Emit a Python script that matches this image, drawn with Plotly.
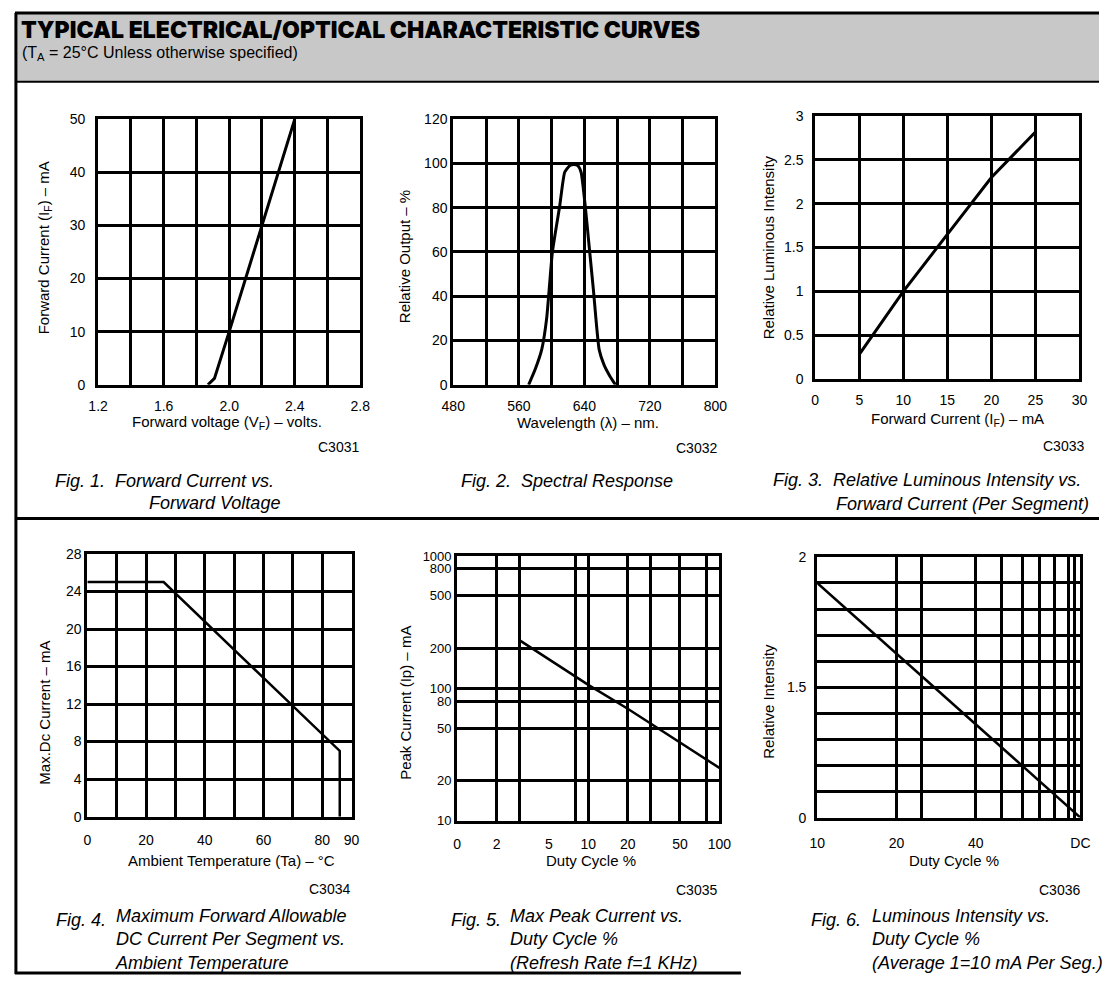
import math
import plotly.graph_objects as go

W, H = 1111, 984
FONT = "Liberation Sans"

# ---------------- data ----------------
# Fig 1: Forward current vs forward voltage
vf = [1.87, 1.91, 2.0, 2.1, 2.2, 2.3, 2.4]
if_ma = [0, 1.2, 10, 20, 30, 40, 50]
fig1_xticks = [1.2, 1.4, 1.6, 1.8, 2.0, 2.2, 2.4, 2.6, 2.8]
fig1_xlabels = ["1.2", "", "1.6", "", "2.0", "", "2.4", "", "2.8"]
fig1_yticks = [0, 10, 20, 30, 40, 50]

# Fig 2: Spectral response
wavelength = [572, 580, 588, 594, 601, 610, 616, 622, 627, 632, 636, 641, 646, 651, 658, 664, 671, 678]
rel_output = [0, 7, 16, 30, 60, 81, 96, 99, 99.5, 99, 96, 81, 62, 43, 16, 9, 4, 0]
fig2_xticks = [480, 520, 560, 600, 640, 680, 720, 760, 800]
fig2_xlabels = ["480", "", "560", "", "640", "", "720", "", "800"]
fig2_yticks = [0, 20, 40, 60, 80, 100, 120]

# Fig 3: Relative luminous intensity vs forward current
if3 = [5, 10, 15, 20, 25]
lum3 = [0.28, 1.0, 1.65, 2.3, 2.82]
fig3_xticks = [0, 5, 10, 15, 20, 25, 30]
fig3_yticks = [0, 0.5, 1, 1.5, 2, 2.5, 3]
fig3_ylabels = ["0", "0.5", "1", "1.5", "2", "2.5", "3"]

# Fig 4: Max DC current vs ambient temperature
ta = [0, 26, 86, 86]
imax = [25, 25, 7, 0]
fig4_xticks = [0, 10, 20, 30, 40, 50, 60, 70, 80, 90]
fig4_xlabels = ["0", "", "20", "", "40", "", "60", "", "80", "90"]
fig4_yticks = [0, 4, 8, 12, 16, 20, 24, 28]

# Fig 5: Max peak current vs duty cycle
duty5 = [3, 10, 20, 50, 100]
ipeak = [230, 106, 70, 39, 25]
fig5_xticks = [1, 2, 5, 10, 20, 50, 100]
fig5_xlabels = ["0", "2", "5", "10", "20", "50", "100"]
fig5_xgrid = [2, 3, 8, 10, 20, 30, 50, 80]
fig5_yticks = [10, 20, 50, 80, 100, 200, 500, 800, 1000]

# Fig 6: Luminous intensity vs duty cycle
duty6 = [10, 100]
rel6 = [1.8, 0]
fig6_xticks = [10, 20, 25, 40, 50, 60, 70, 80, 90, 95, 100]
fig6_xlabels = ["10", "20", "", "40", "", "", "", "", "", "", "DC"]
fig6_yticks = [0, 0.2, 0.4, 0.6, 0.8, 1.0, 1.2, 1.4, 1.6, 1.8, 2.0]
fig6_ylabels = ["0", "", "", "", "", "1.5", "", "", "", "", "2"]


def px(x):
    return x / W


def py(y):
    return 1 - y / H


def axis(x0, x1, rng, anchor, **kw):
    d = dict(
        domain=[x0, x1], range=rng, anchor=anchor,
        showline=True, mirror=True, linecolor="black", linewidth=3,
        showgrid=True, gridcolor="black", gridwidth=2.7,
        zeroline=False, ticks="", fixedrange=True,
        tickfont=dict(family=FONT, size=14, color="black"),
    )
    d.update(kw)
    return d


fig = go.Figure()

fig.add_trace(go.Scatter(x=vf, y=if_ma, mode="lines", line=dict(color="black", width=3), xaxis="x", yaxis="y"))
fig.add_trace(go.Scatter(x=wavelength, y=rel_output, mode="lines", line=dict(color="black", width=3, shape="spline", smoothing=0.5), xaxis="x2", yaxis="y2"))
fig.add_trace(go.Scatter(x=if3, y=lum3, mode="lines", line=dict(color="black", width=3), xaxis="x3", yaxis="y3"))
fig.add_trace(go.Scatter(x=ta, y=imax, mode="lines", line=dict(color="black", width=2.5), xaxis="x4", yaxis="y4"))
fig.add_trace(go.Scatter(x=duty5, y=ipeak, mode="lines", line=dict(color="black", width=2.5), xaxis="x5", yaxis="y5"))
fig.add_trace(go.Scatter(x=duty6, y=rel6, mode="lines", line=dict(color="black", width=2.5), xaxis="x6", yaxis="y6"))

XS = 6   # x tick label standoff

layout = dict(
    width=W, height=H, margin=dict(l=0, r=0, t=0, b=0),
    paper_bgcolor="white", plot_bgcolor="white", showlegend=False,
    # Fig 1
    xaxis=axis(px(88), px(356), [1.2, 2.8], "y", tickmode="array", tickvals=fig1_xticks, ticktext=fig1_xlabels, ticklabelstandoff=XS),
    yaxis=axis(py(383), py(113), [0, 50], "x", tickmode="array", tickvals=fig1_yticks, ticklabelstandoff=7),
    # Fig 2
    xaxis2=axis(px(451), px(719), [480, 800], "y2", tickmode="array", tickvals=fig2_xticks, ticktext=fig2_xlabels, ticklabelstandoff=XS),
    yaxis2=axis(py(383), py(113), [0, 120], "x2", tickmode="array", tickvals=fig2_yticks, ticklabelstandoff=0),
    # Fig 3
    xaxis3=axis(px(821), px(1091), [0, 30], "y3", tickmode="array", tickvals=fig3_xticks, ticklabelstandoff=XS),
    yaxis3=axis(py(377), py(110), [0, 3], "x3", tickmode="array", tickvals=fig3_yticks, ticktext=fig3_ylabels, ticklabelstandoff=6),
    # Fig 4
    xaxis4=axis(px(77), px(347), [0, 90], "y4", tickmode="array", tickvals=fig4_xticks, ticktext=fig4_xlabels, ticklabelstandoff=XS + 3),
    yaxis4=axis(py(822), py(555), [0, 28], "x4", tickmode="array", tickvals=fig4_yticks, ticklabelstandoff=0),
    # Fig 5
    xaxis5=axis(px(455), px(723), [0, 2], "y5", type="log", tickmode="array", tickvals=fig5_xticks, ticktext=fig5_xlabels,
                showgrid=False, ticklabelstandoff=XS + 3,
                minor=dict(tickmode="array", tickvals=fig5_xgrid, showgrid=True, gridcolor="black", gridwidth=2.7, ticks="")),
    yaxis5=axis(py(826), py(557), [1, 3], "x5", type="log", tickmode="array", tickvals=fig5_yticks,
                ticktext=[str(v) for v in fig5_yticks], ticklabelstandoff=0,
                tickfont=dict(family=FONT, size=13, color="black")),
    # Fig 6
    xaxis6=axis(px(823), px(1092), [1, 2], "y6", type="log", tickmode="array", tickvals=fig6_xticks, ticktext=fig6_xlabels, ticklabelstandoff=XS + 5),
    yaxis6=axis(py(823), py(558), [0, 2], "x6", tickmode="array", tickvals=fig6_yticks, ticktext=fig6_ylabels, ticklabelstandoff=5),
)
fig.update_layout(**layout)

# ---------------- frame, header band and dividers ----------------
shapes = [
    dict(type="rect", xref="paper", yref="paper", x0=px(4), x1=1, y0=py(75), y1=py(5),
         fillcolor="#c8c8c8", line=dict(width=0), layer="below"),
    dict(type="line", xref="paper", yref="paper", x0=px(3), x1=1, y0=py(5), y1=py(5), line=dict(color="black", width=3)),
    dict(type="line", xref="paper", yref="paper", x0=px(3), x1=1, y0=py(75), y1=py(75), line=dict(color="black", width=2)),
    dict(type="line", xref="paper", yref="paper", x0=px(4), x1=px(4), y0=py(5), y1=py(982), line=dict(color="black", width=3)),
    dict(type="line", xref="paper", yref="paper", x0=px(3), x1=1, y0=py(519), y1=py(519), line=dict(color="black", width=3)),
    dict(type="line", xref="paper", yref="paper", x0=px(3), x1=px(745), y0=py(981), y1=py(981), line=dict(color="black", width=3)),
]
fig.update_layout(shapes=shapes)

ann = []


def note(text, x, y, size=15, xanchor="center", angle=0, italic=False, weight=None, family=FONT):
    f = dict(family=family, size=size, color="black")
    if weight is not None:
        f["weight"] = weight
    a = dict(text=f"<i>{text}</i>" if italic else text, x=px(x), y=py(y), xref="paper", yref="paper",
             xanchor=xanchor, yanchor="middle", showarrow=False, textangle=angle, font=f)
    if "<br>" in text:
        a["align"] = "left"
    ann.append(a)


# Header
note("TYPICAL ELECTRICAL/OPTICAL CHARACTERISTIC CURVES", 7, 22, size=23, xanchor="left", weight=900, family="Inter")
note("(T<sub>A</sub> = 25°C Unless otherwise specified)", 8, 46, size=16, xanchor="left")

# Axis titles
note("Forward voltage (V<sub>F</sub>) – volts.", 220, 421)
note("Forward Current (I<sub>F</sub>) – mA", 33, 244, angle=-90)
note("Wavelength (λ) – nm.", 589, 421)
note("Relative Output – %", 402, 253, angle=-90)
note("Forward Current (I<sub>F</sub>) – mA", 966, 418)
note("Relative Luminous Intensity", 773, 243, angle=-90)
note("Ambient Temperature (Ta) – °C", 224, 867)
note("Max.Dc Current – mA", 33, 716, angle=-90)
note("Duty Cycle %", 592, 867)
note("Peak Current (Ip) – mA", 402, 706, angle=-90)
note("Duty Cycle %", 963, 867)
note("Relative Intensity", 773, 705, angle=-90)

# Figure codes
note("C3031", 357, 446, size=14, xanchor="right")
note("C3032", 723, 447, size=14, xanchor="right")
note("C3033", 1098, 445, size=14, xanchor="right")
note("C3034", 348, 896, size=14, xanchor="right")
note("C3035", 723, 897, size=14, xanchor="right")
note("C3036", 1094, 897, size=14, xanchor="right")

# Captions
CS = 18
note("Fig. 1.  Forward Current vs.", 42, 481, size=CS, xanchor="left", italic=True)
note("Forward Voltage", 138, 503, size=CS, xanchor="left", italic=True)
note("Fig. 2.  Spectral Response", 457, 481, size=CS, xanchor="left", italic=True)
note("Fig. 3.  Relative Luminous Intensity vs.", 1095, 480, size=CS, xanchor="right", italic=True)
note("Forward Current (Per Segment)", 1103, 504, size=CS, xanchor="right", italic=True)
note("Fig. 4.", 43, 927, size=CS, xanchor="left", italic=True)
note("Maximum Forward Allowable<br>DC Current Per Segment vs.<br>Ambient Temperature", 103, 947, size=CS, xanchor="left", italic=True)
note("Fig. 5.", 447, 927, size=CS, xanchor="left", italic=True)
note("Max Peak Current vs.<br>Duty Cycle %<br>(Refresh Rate f=1 KHz)", 507, 947, size=CS, xanchor="left", italic=True)
note("Fig. 6.", 815, 927, size=CS, xanchor="left", italic=True)
note("Luminous Intensity vs.<br>Duty Cycle %<br>(Average 1=10 mA Per Seg.)", 877, 947, size=CS, xanchor="left", italic=True)

fig.update_layout(annotations=ann)

fig.write_html(
    "out.html",
    config={"displayModeBar": False},
    post_script="document.body.style.margin='0px';document.body.style.padding='0px';document.body.style.overflow='hidden';",
)
